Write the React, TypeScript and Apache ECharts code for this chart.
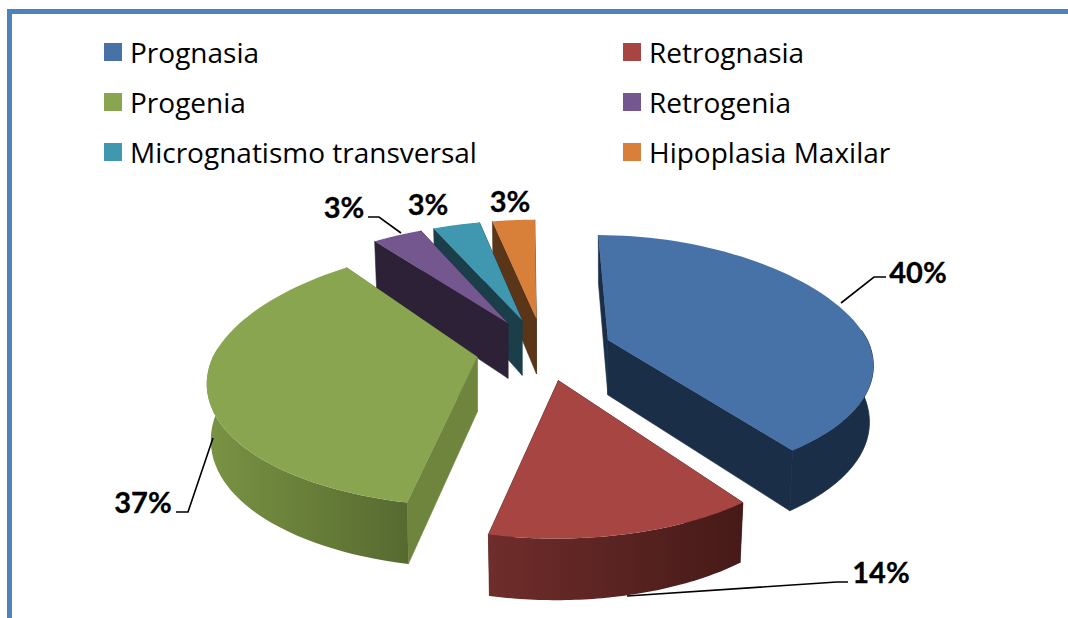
import React, { useEffect, useRef } from "react";
import * as echarts from "echarts";

const categories = ["Prognasia", "Retrognasia", "Progenia", "Retrogenia", "Micrognatismo transversal", "Hipoplasia Maxilar"];
const labelValues = [40, 14, 37, 3, 3, 3];
const sliceShares = [39.6, 13.8, 36.0, 3.7, 3.6, 3.3];
const topColors = ["#4672a8", "#a64542", "#8aa550", "#75578f", "#4097b0", "#d87f3a"];
const sideColors = ["#1b2e47", "#4a1b19", "#6f853d", "#2d2138", "#1a3e4a", "#5a3518"];
const wallLeft = ["#1b2e47", "#6f2d2b", "#7a9343", "#2d2138", "#1a3e4a", "#5a3518"];
const wallRight = ["#1b2e47", "#451a18", "#566a30", "#2d2138", "#1a3e4a", "#5a3518"];
const layerOrder = [5, 6, 5, 4, 3, 2];
const labelCenters = [[918, 271], [881, 571], [143, 501], [344, 206], [428, 203], [510, 200]];
const leaders: (number[][] | null)[] = [
  [[841, 303], [874, 277], [886, 277]],
  [[627, 596], [837, 582], [848, 582]],
  [[213, 438], [188, 512], [176, 512]],
  [[401, 233], [379, 217], [368, 217]],
  null,
  null,
];

const CX = 543.5;
const CY = 350;
const R = 262;
const TILT = 0.5;
const EXPLODE_TILT = 0.46;
const PERSP = 0.22;
const EXPLODE = 68;
const DEPTH = 55;
const ARC_SHIFT = -2.5;
const total = sliceShares.reduce((a, b) => a + b, 0);

function point(ax: number, ay: number, r: number, t: number) {
  const back = -Math.cos(t) * (r / R);
  const f = 1 + PERSP * back;
  const fy = (0.971 + 0.15 * back) * (1 + (ay - CY) * 0.0025);
  const lean = f < 1 ? (ax - CX) * (f - 1) * 0.5 : 0;
  return [ax + r * Math.sin(t) * f + lean + ARC_SHIFT, ay - r * Math.cos(t) * TILT * fy];
}
function drop(p: number[], ax: number, t: number, r: number) {
  const d = DEPTH * (1 + 0.12 * -Math.cos(t) * (r / R));
  return [ax + (p[0] - ax) * 0.985, p[1] + d];
}

function makeRender(i: number) {
  return (_params: any, api: any) => {
    const v = api.value(0);
    const before = sliceShares.slice(0, i).reduce((a, b) => a + b, 0);
    const a0 = (before / total) * Math.PI * 2;
    const a1 = a0 + (v / total) * Math.PI * 2;
    const mid = (a0 + a1) / 2;
    const ax = CX + EXPLODE * Math.sin(mid);
    const ay = CY - EXPLODE * Math.cos(mid) * EXPLODE_TILT;

    const n = 60;
    const arc: number[][] = [];
    const wallTop: number[][] = [];
    const wallBottom: number[][] = [];
    for (let k = 0; k <= n; k++) {
      const t = a0 + ((a1 - a0) * k) / n;
      const p = point(ax, ay, R, t);
      arc.push(p);
      if (Math.cos(t) < 0.1) {
        wallTop.push(p);
        wallBottom.push(drop(p, ax, t, R));
      }
    }
    const apex = [ax, ay];
    const apexB = drop(apex, ax, 0, 0);
    const p0 = arc[0];
    const p1 = arc[n];
    const wall = (pts: number[][]) => ({
      type: "polygon",
      shape: { points: pts },
      style: { fill: sideColors[i], stroke: sideColors[i], lineWidth: 0.6 },
      silent: true,
    });
    const children: any[] = [
      wall([apex, p0, drop(p0, ax, a0, R), apexB]),
      wall([apex, p1, drop(p1, ax, a1, R), apexB]),
    ];
    if (wallTop.length > 1) {
      const flat = wallLeft[i] === wallRight[i];
      children.push({
        type: "polygon",
        shape: { points: [...wallTop, ...wallBottom.slice().reverse()] },
        style: {
          fill: new echarts.graphic.LinearGradient(0, 0, 1, 0, [
            { offset: 0, color: wallLeft[i] },
            { offset: 1, color: wallRight[i] },
          ]),
          stroke: flat ? wallLeft[i] : undefined,
          lineWidth: flat ? 0.8 : 0,
        },
        silent: true,
      });
    }
    children.push({
      type: "polygon",
      shape: { points: [apex, ...arc] },
      style: { fill: topColors[i] },
      silent: true,
    });
    const leader = leaders[i];
    if (leader) {
      children.push({
        type: "polyline",
        shape: { points: leader },
        style: { stroke: "#000", lineWidth: 1.6, fill: "none" },
        silent: true,
      });
    }
    children.push({
      type: "text",
      x: labelCenters[i][0],
      y: labelCenters[i][1],
      style: {
        text: `${labelValues[i]}%`,
        fontFamily: "Lato",
        fontWeight: "bold",
        fontSize: 29,
        fill: "#000",
        stroke: "#000",
        lineWidth: 0.3,
        align: "center",
        verticalAlign: "middle",
      },
      silent: true,
    });
    return { type: "group", children };
  };
}

const legendText = {
  fontFamily: "Open Sans",
  fontSize: 28,
  color: "#000",
  padding: [0, 0, 0, 3],
};
const legendBase = {
  orient: "vertical",
  top: 38,
  padding: 0,
  itemWidth: 18,
  itemHeight: 18,
  itemGap: 22,
  selectedMode: false,
  icon: "rect",
  textStyle: legendText,
};

export default function App() {
  const ref = useRef<HTMLDivElement>(null);
  useEffect(() => {
    document.body.style.margin = "0";
    const chart = echarts.init(ref.current!, null, { renderer: "svg" });
    chart.setOption({
      animation: false,
      backgroundColor: "#fff",
      legend: [
        { ...legendBase, left: 104, data: [categories[0], categories[2], categories[4]] },
        { ...legendBase, left: 623, data: [categories[1], categories[3], categories[5]] },
      ],
      graphic: [
        { type: "rect", shape: { x: 7, y: 9, width: 1061, height: 5 }, style: { fill: "#4f81bd" }, silent: true },
        { type: "rect", shape: { x: 7, y: 9, width: 5, height: 609 }, style: { fill: "#4f81bd" }, silent: true },
      ],
      series: categories.map((name, i) => ({
        type: "custom",
        name,
        coordinateSystem: "none",
        z: layerOrder[i],
        itemStyle: { color: topColors[i] },
        data: [[sliceShares[i]]],
        renderItem: makeRender(i),
      })),
    });
    return () => chart.dispose();
  }, []);
  return <div ref={ref} style={{ width: 1068, height: 618 }} />;
}
